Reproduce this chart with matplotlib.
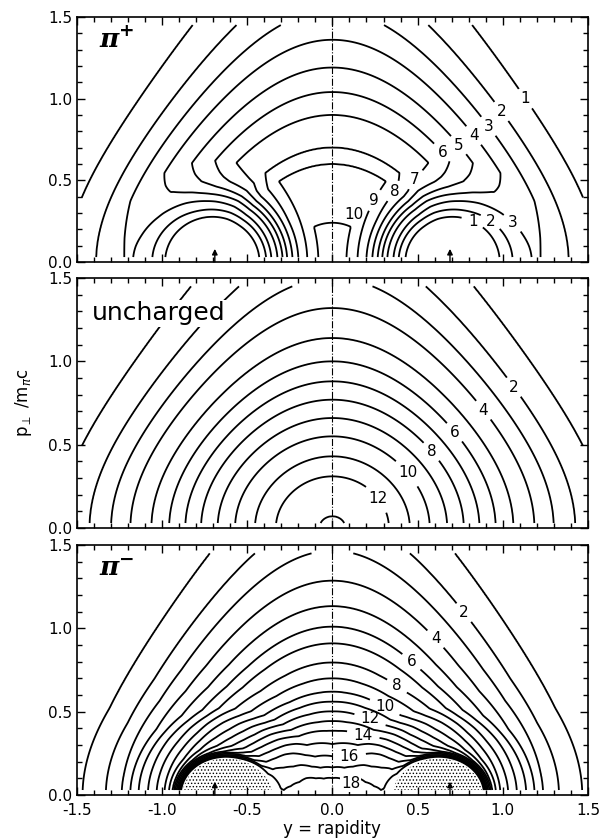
import numpy as np
import matplotlib.pyplot as plt
from matplotlib.ticker import MultipleLocator, FormatStrFormatter

# --------------------------------
# VALUES
# --------------------------------

# level of each contour and the p_perp where it crosses y = 0
unch_levels = [13.1, 13, 12, 11, 10, 9, 8, 7, 6, 5, 4, 3, 2, 1, 0]
unch_p_axis = [0.0, 0.07, 0.31, 0.43, 0.55, 0.66, 0.77, 0.88, 1.00, 1.14, 1.32, 1.50, 1.72, 2.07, 3.0]

pip_levels = [10.2, 10, 9, 8, 7, 6, 5, 4, 3, 2, 1, 0]
pip_p_axis = [0.0, 0.24, 0.60, 0.70, 0.90, 1.04, 1.19, 1.36, 1.54, 1.76, 2.11, 3.0]

pim_levels = [18.3, 18, 17, 16, 15, 14, 13, 12, 11, 10, 9, 8, 7, 6, 5, 4, 3, 2, 1, 0]
pim_p_axis = [0.0, 0.07, 0.14, 0.21, 0.29, 0.38, 0.44, 0.50, 0.56, 0.62, 0.70, 0.795,
              0.91, 1.01, 1.133, 1.286, 1.466, 1.67, 2.0, 3.0]

# spectator rapidities (arrows)
y_spec = [-0.69, 0.69]

# pi+ : depletion factor vs distance from the spectator point
hole_dist = [0, 0.18, 0.26, 0.28, 0.30, 0.33, 0.37, 0.40, 0.43, 0.46, 0.50, 0.55, 0.62, 3.0]
hole_factor = [0, 0.02, 0.10, 0.14, 0.20, 0.30, 0.41, 0.51, 0.62, 0.71, 0.82, 0.90, 1.0, 1.0]

# pi- : pile up (added level) vs distance from the stippled dome centre
dome_centre = 0.64
dome_dist = [0, 0.20, 0.24, 0.27, 0.30, 0.34, 0.40, 0.50, 0.60, 0.75, 0.90, 3.0]
dome_add = [40, 30, 14, 8, 4.5, 3.2, 2.5, 1.6, 0.5, 0.1, 0, 0]

# contour labels: (level, y, p)
unch_labels = [(2, 1.04, 0.83), (4, 0.84, 0.67), (6, 0.70, 0.56), (8, 0.56, 0.44),
               (10, 0.43, 0.32), (12, 0.27, 0.18)]
pip_labels = [(1, 1.16, 1.02), (2, 0.99, 0.92), (3, 0.89, 0.81), (4, 0.80, 0.75),
              (5, 0.69, 0.67), (6, 0.59, 0.62), (7, 0.46, 0.53), (8, 0.32, 0.47),
              (9, 0.19, 0.41), (1, 0.82, 0.24), (2, 0.93, 0.25), (3, 1.04, 0.22)]
pim_labels = [(2, 0.79, 1.11), (4, 0.63, 0.96), (6, 0.49, 0.83), (8, 0.39, 0.67),
              (10, 0.32, 0.555), (12, 0.22, 0.45), (14, 0.17, 0.33), (16, 0.10, 0.19)]

# --------------------------------
# FIELDS
# --------------------------------
Y, P = np.meshgrid(np.linspace(-1.47, 1.47, 589), np.linspace(0.03, 1.45, 285))


def energy_field(p_axis, levels, k):
    # contours follow m_t cosh(y) (energy), tabulated on the y = 0 axis
    g = np.sqrt(1 + P**2) * np.cosh(k * Y)
    return np.interp(g, np.sqrt(1 + np.array(p_axis)**2), levels)


f_unch = energy_field(unch_p_axis, unch_levels, 0.92)

d_hole = np.sqrt((np.abs(Y) - y_spec[1])**2 + P**2)
f_pip = energy_field(pip_p_axis, pip_levels, 0.96) * np.interp(d_hole, hole_dist, hole_factor)

d_dome = np.sqrt((np.abs(Y) - dome_centre)**2 + (1.15 * P)**2)
f_pim = energy_field(pim_p_axis, pim_levels, 1.0) + np.interp(d_dome, dome_dist, dome_add)

# --------------------------------
# PLOTTING
# --------------------------------
plt.rcParams['font.family'] = 'DejaVu Sans'
plt.rcParams['hatch.color'] = 'black'
plt.rcParams['hatch.linewidth'] = 0.6

fig = plt.figure(figsize=(6, 8.38), dpi=100)
ax_top = fig.add_axes([0.128, 0.6874, 0.852, 0.2924])
ax_mid = fig.add_axes([0.128, 0.3699, 0.852, 0.2983])
ax_bot = fig.add_axes([0.128, 0.0513, 0.852, 0.2983])


def setup(ax, xlabels):
    ax.set_xlim(-1.5, 1.5)
    ax.set_ylim(0, 1.5)
    ax.xaxis.set_major_locator(MultipleLocator(0.5))
    ax.xaxis.set_minor_locator(MultipleLocator(0.1))
    ax.yaxis.set_major_locator(MultipleLocator(0.5))
    ax.yaxis.set_minor_locator(MultipleLocator(0.1))
    ax.yaxis.set_major_formatter(FormatStrFormatter('%.1f'))
    ax.xaxis.set_major_formatter(FormatStrFormatter('%.1f'))
    ax.tick_params(which='both', direction='in', top=True, right=True, width=1)
    ax.tick_params(which='major', length=6, labelsize=11)
    ax.tick_params(which='minor', length=3.5)
    ax.tick_params(axis='x', pad=6)
    if not xlabels:
        ax.tick_params(labelbottom=False)
    for s in ax.spines.values():
        s.set_linewidth(1.2)
    ax.axvline(0, color='k', ls='-.', lw=0.8)


def draw_contours(ax, field, top_level, labels):
    # one contour set per level so each can get its own inline labels
    for lev in range(1, top_level + 1):
        cs = ax.contour(Y, P, field, levels=[lev], colors='k', linewidths=1.3)
        spots = [(x, p) for (l, x, p) in labels if l == lev]
        if spots:
            texts = ax.clabel(cs, manual=spots, inline=True, fmt='%d', fontsize=11,
                              inline_spacing=7)
            for t in texts:
                t.set_rotation(0)  # labels stand upright as in the paper


def spectator_arrows(ax):
    for ys in y_spec:
        ax.annotate('', xy=(ys, 0.08), xytext=(ys, 0.0),
                    arrowprops=dict(arrowstyle='-|>', color='k', lw=1, mutation_scale=8,
                                    shrinkA=0, shrinkB=0))


# pi+
setup(ax_top, False)
draw_contours(ax_top, f_pip, 10, pip_labels)
ax_top.text(0.07, 0.29, '10', fontsize=11, ha='left', va='center')
ax_top.text(-1.37, 1.36, 'π$^{\\mathbf{+}}$', fontsize=19, fontweight='bold',
            fontstyle='italic', family='DejaVu Serif', va='center')
spectator_arrows(ax_top)

# uncharged
setup(ax_mid, False)
draw_contours(ax_mid, f_unch, 13, unch_labels)
ax_mid.text(-1.41, 1.29, 'uncharged', fontsize=18, va='center', ha='left',
            bbox=dict(facecolor='white', edgecolor='none', pad=1))
ax_mid.set_ylabel('p$_\\perp$ /m$_\\pi$c', fontsize=12, labelpad=10)

# pi-
setup(ax_bot, True)
ax_bot.contourf(Y, P, f_pim, levels=[20.5, 1e3], colors='none', hatches=['.....'])
draw_contours(ax_bot, f_pim, 18, pim_labels)
ax_bot.text(0.05, 0.07, '18', fontsize=11, ha='left', va='center',
            bbox=dict(facecolor='white', edgecolor='none', pad=0.5))
ax_bot.text(-1.37, 1.36, 'π$^{\\mathbf{-}}$', fontsize=19, fontweight='bold',
            fontstyle='italic', family='DejaVu Serif', va='center')
spectator_arrows(ax_bot)
ax_bot.set_xlabel('y = rapidity', fontsize=12, labelpad=1)

fig.savefig('out.png', dpi=100)
